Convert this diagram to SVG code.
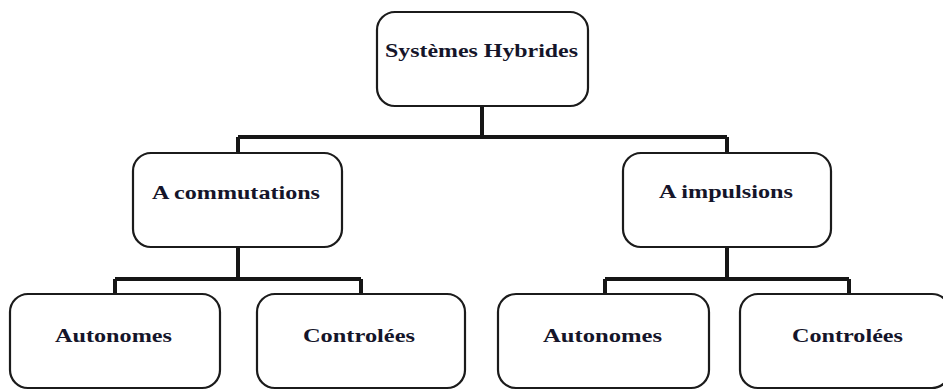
<svg xmlns="http://www.w3.org/2000/svg" width="943" height="392" viewBox="0 0 943 392">
  <style>
    .box { fill: #ffffff; stroke: #1b1b1b; stroke-width: 2.2; }
    .lbl { font-family: "Liberation Serif", "Times New Roman", serif; font-weight: bold; font-size: 19px; fill: #15152a; }
    .wire { fill: none; stroke: #161616; stroke-width: 4; stroke-linecap: butt; stroke-linejoin: miter; }
  </style>
  <rect width="943" height="392" fill="#ffffff"/>

  <!-- tree connectors -->
  <g id="connectors">
    <path class="wire" d="M482 106 V137 M238 137 H727 M238 137 V153 M727 137 V153"/>
    <path class="wire" d="M238 247 V279 M115 279 H361 M115 279 V293 M361 279 V293"/>
    <path class="wire" d="M727 247 V279 M605 279 H849 M605 279 V293 M849 279 V293"/>
  </g>

  <g id="systemes-hybrides">
    <rect class="box" x="377" y="12" width="211" height="94" rx="18"/>
    <text class="lbl" x="385" y="57" textLength="193" lengthAdjust="spacingAndGlyphs">Systèmes Hybrides</text>
  </g>

  <g id="a-commutations">
    <rect class="box" x="133" y="153" width="209" height="94" rx="18"/>
    <text class="lbl" x="152" y="199" textLength="168" lengthAdjust="spacingAndGlyphs">A commutations</text>
  </g>

  <g id="a-impulsions">
    <rect class="box" x="623" y="153" width="208" height="94" rx="18"/>
    <text class="lbl" x="659" y="198" textLength="134" lengthAdjust="spacingAndGlyphs">A impulsions</text>
  </g>

  <g id="commutations-autonomes">
    <rect class="box" x="10" y="294" width="210" height="94" rx="18"/>
    <text class="lbl" x="55" y="342" textLength="117" lengthAdjust="spacingAndGlyphs">Autonomes</text>
  </g>

  <g id="commutations-controlees">
    <rect class="box" x="257" y="294" width="208" height="94" rx="18"/>
    <text class="lbl" x="303" y="342" textLength="112" lengthAdjust="spacingAndGlyphs">Controlées</text>
  </g>

  <g id="impulsions-autonomes">
    <rect class="box" x="498" y="294" width="211" height="94" rx="18"/>
    <text class="lbl" x="543" y="342" textLength="119" lengthAdjust="spacingAndGlyphs">Autonomes</text>
  </g>

  <g id="impulsions-controlees">
    <rect class="box" x="740" y="294" width="210" height="94" rx="18"/>
    <text class="lbl" x="792" y="342" textLength="111" lengthAdjust="spacingAndGlyphs">Controlées</text>
  </g>
</svg>
